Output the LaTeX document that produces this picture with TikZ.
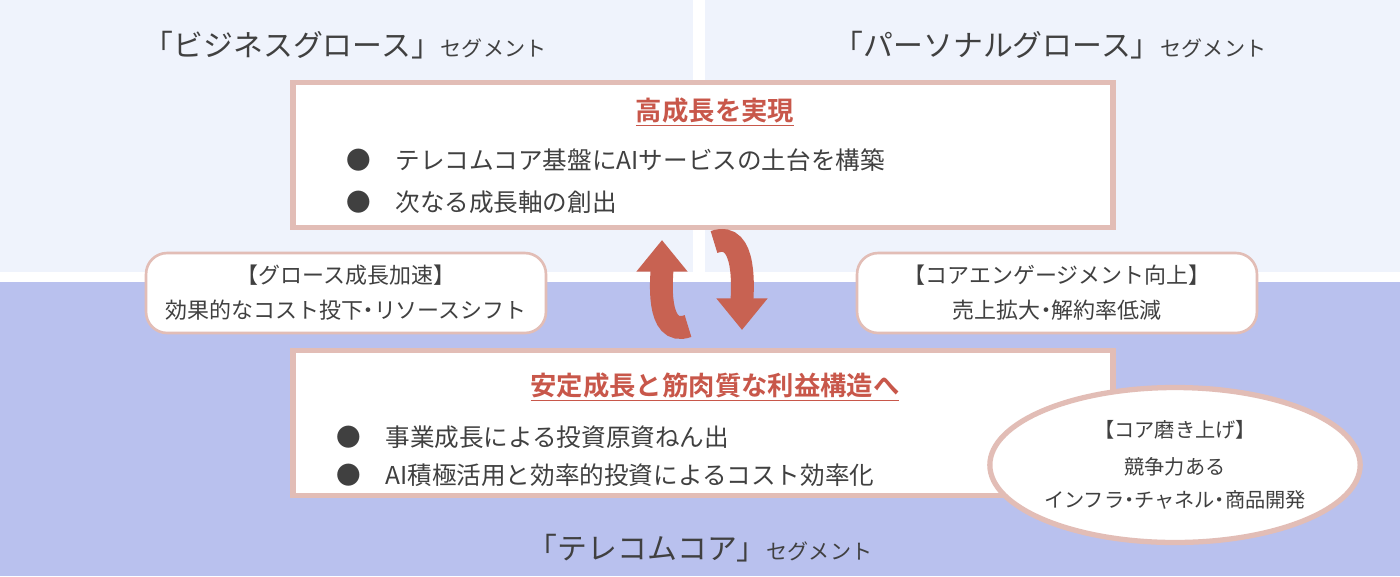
\documentclass[tikz,border=0pt]{standalone}
\usepackage{fontspec}
\setmainfont{Noto Sans CJK JP}[BoldFont={* Bold}]
\usetikzlibrary{arrows.meta,shapes.geometric}
\definecolor{topbg}{HTML}{EFF3FC}
\definecolor{lowbg}{HTML}{B9C1EE}
\definecolor{headred}{HTML}{C8574A}
\definecolor{arrowred}{HTML}{C86252}
\definecolor{edgepink}{HTML}{E2BDB6}
\definecolor{textgray}{HTML}{404040}
\tikzset{
    mainbox/.style={draw=edgepink, line width=3pt, fill=white, rectangle,
        minimum width=16.4cm, minimum height=2.9cm},
    sidebox/.style={draw=edgepink, line width=1.5pt, fill=white, rectangle,
        rounded corners=12pt, minimum width=8cm, minimum height=1.6cm,
        align=center, text=textgray, font=\fontsize{12.5}{20}\selectfont},
    heading/.style={text=headred, font=\bfseries\fontsize{15}{18}\selectfont},
    bullet/.style={text=textgray, anchor=west, font=\fontsize{14}{17}\selectfont},
    seglabel/.style={text=textgray, font=\fontsize{17}{20}\selectfont},
    turn/.style={arrowred, line width=13pt, -{Triangle[length=18pt,width=28pt]}}
}
\begin{document}
\begin{tikzpicture}[x=0.02cm,y=-0.02cm]
\useasboundingbox (0,0) rectangle (1400,576);
% backgrounds
\fill[white] (0,0) rectangle (1400,576);
\fill[topbg] (0,0) rectangle (693,272);
\fill[topbg] (705,0) rectangle (1400,272);
\fill[lowbg] (0,282) rectangle (1400,576);
% segment labels
\node[seglabel] (bizseg) at (345,45) {「ビジネスグロース」{\fontsize{12}{14}\selectfont セグメント}};
\node[seglabel] (perseg) at (1050,45) {「パーソナルグロース」{\fontsize{12}{14}\selectfont セグメント}};
\node[seglabel] (telseg) at (700,548) {「テレコムコア」{\fontsize{12}{14}\selectfont セグメント}};
% main boxes
\node[mainbox] (growth) at (703,155) {};
\node[heading] (growthtitle) at (715,112) {\underline{高成長を実現}};
\node[bullet] (g1) at (340,160) {●\quad テレコムコア基盤にAIサービスの土台を構築};
\node[bullet] (g2) at (340,202) {●\quad 次なる成長軸の創出};
\node[mainbox] (core) at (703,423) {};
\node[heading] (coretitle) at (715,387) {\underline{安定成長と筋肉質な利益構造へ}};
\node[bullet] (c1) at (330,437) {●\quad 事業成長による投資原資ねん出};
\node[bullet] (c2) at (330,475) {●\quad AI積極活用と効率的投資によるコスト効率化};
% side boxes
\node[sidebox] (leftbox) at (346,293) {【グロース成長加速】\\効果的なコスト投下{\kern-0.25em}・{\kern-0.25em}リソースシフト};
\node[sidebox] (rightbox) at (1057,293) {【コアエンゲージメント向上】\\売上拡大{\kern-0.25em}・{\kern-0.25em}解約率低減};
% ellipse
\node[ellipse, draw=edgepink, line width=3pt, fill=white, inner sep=0pt,
    minimum width=6.4cm, minimum height=3.1cm, align=center, text=textgray,
    font=\fontsize{11.5}{19}\selectfont] (polish) at (1175,465)
    {【コア磨き上げ】\\[2pt]競争力ある\\インフラ{\kern-0.25em}・{\kern-0.25em}チャネル{\kern-0.25em}・{\kern-0.25em}商品開発};
% turning arrows
\coordinate (upstart) at (688,326);
\coordinate (upend) at (662,240);
\coordinate (downstart) at (714,242);
\coordinate (downend) at (742,330);
\draw[turn] (upstart) to[out=200,in=270] (upend);
\draw[turn] (downstart) to[out=20,in=90] (downend);
\end{tikzpicture}
\end{document}
